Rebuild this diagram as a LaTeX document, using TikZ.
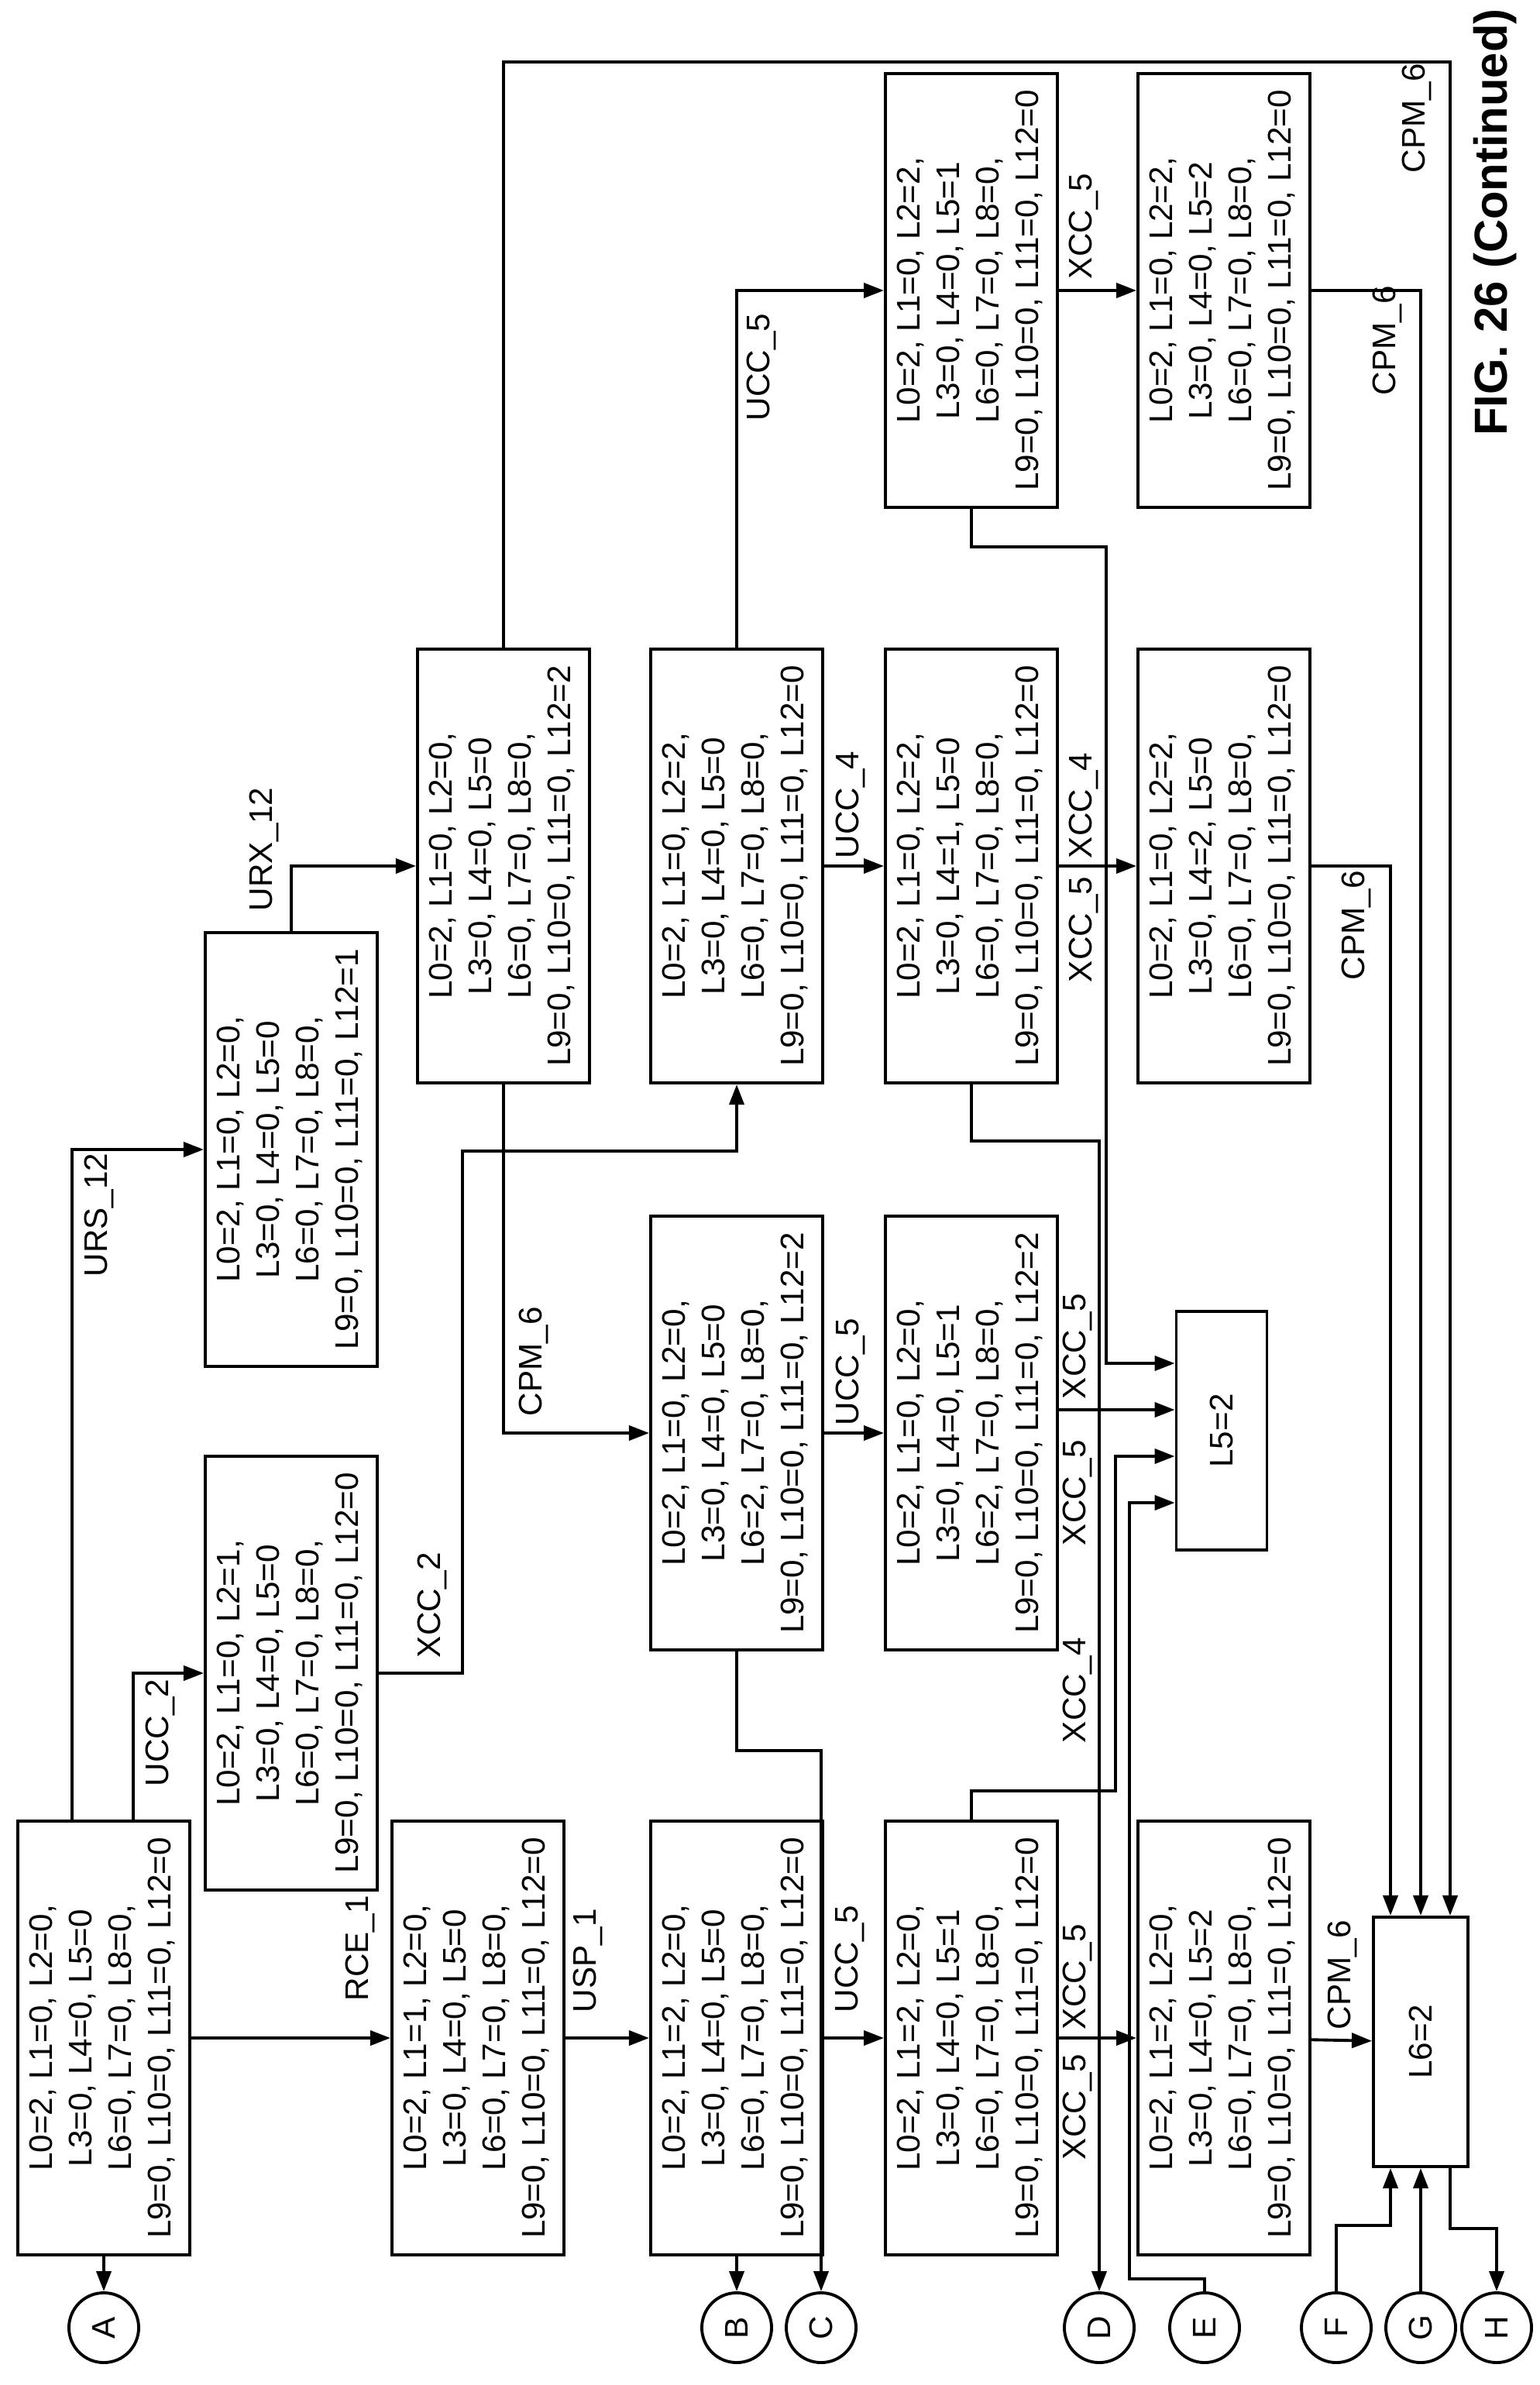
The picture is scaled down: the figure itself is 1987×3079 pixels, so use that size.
\documentclass[tikz,border=0pt]{standalone}
\usepackage{fontspec}
\setmainfont{Liberation Sans}
\usetikzlibrary{arrows.meta,calc}
\newcommand{\vstate}[4]{\rotatebox{90}{\begin{tabular}{@{}c@{}}#1\\#2\\#3\\#4\end{tabular}}}
\begin{document}
\begin{tikzpicture}[x=0.01cm, y=-0.01cm, line width=1.1pt,
  box/.style={draw, rectangle, inner sep=0pt, minimum width=2.22cm, minimum height=5.6cm, font=\fontsize{12}{14.5}\selectfont},
  sbox/.style={draw, rectangle, inner sep=0pt, font=\fontsize{12}{14.5}\selectfont},
  conn/.style={draw, circle, inner sep=0pt, minimum size=0.9cm, font=\fontsize{12}{14.5}\selectfont},
  lbl/.style={rotate=90, anchor=south west, inner sep=0pt, font=\fontsize{12}{14.5}\selectfont},
  arr/.style={-{Triangle[length=2.6mm,width=1.9mm]}}]
  \useasboundingbox (0,0) rectangle (1987,3079);

  % Zustaende
  \node[box] (s0) at (134,2631) {\vstate{L0=2, L1=0, L2=0,}{L3=0, L4=0, L5=0}{L6=0, L7=0, L8=0,}{L9=0, L10=0, L11=0, L12=0}};
  \node[box] (sRCE) at (617,2631) {\vstate{L0=2, L1=1, L2=0,}{L3=0, L4=0, L5=0}{L6=0, L7=0, L8=0,}{L9=0, L10=0, L11=0, L12=0}};
  \node[box] (sUSP) at (951,2631) {\vstate{L0=2, L1=2, L2=0,}{L3=0, L4=0, L5=0}{L6=0, L7=0, L8=0,}{L9=0, L10=0, L11=0, L12=0}};
  \node[box] (sU5) at (1254,2631) {\vstate{L0=2, L1=2, L2=0,}{L3=0, L4=0, L5=1}{L6=0, L7=0, L8=0,}{L9=0, L10=0, L11=0, L12=0}};
  \node[box] (sX5) at (1580,2631) {\vstate{L0=2, L1=2, L2=0,}{L3=0, L4=0, L5=2}{L6=0, L7=0, L8=0,}{L9=0, L10=0, L11=0, L12=0}};
  \node[box] (sUCC2) at (376,2160) {\vstate{L0=2, L1=0, L2=1,}{L3=0, L4=0, L5=0}{L6=0, L7=0, L8=0,}{L9=0, L10=0, L11=0, L12=0}};
  \node[box] (sURS) at (376,1484) {\vstate{L0=2, L1=0, L2=0,}{L3=0, L4=0, L5=0}{L6=0, L7=0, L8=0,}{L9=0, L10=0, L11=0, L12=1}};
  \node[box] (sURX) at (650,1118) {\vstate{L0=2, L1=0, L2=0,}{L3=0, L4=0, L5=0}{L6=0, L7=0, L8=0,}{L9=0, L10=0, L11=0, L12=2}};
  \node[box] (sT3) at (951,1118) {\vstate{L0=2, L1=0, L2=2,}{L3=0, L4=0, L5=0}{L6=0, L7=0, L8=0,}{L9=0, L10=0, L11=0, L12=0}};
  \node[box] (sT4) at (1254,1118) {\vstate{L0=2, L1=0, L2=2,}{L3=0, L4=1, L5=0}{L6=0, L7=0, L8=0,}{L9=0, L10=0, L11=0, L12=0}};
  \node[box] (sT5) at (1580,1118) {\vstate{L0=2, L1=0, L2=2,}{L3=0, L4=2, L5=0}{L6=0, L7=0, L8=0,}{L9=0, L10=0, L11=0, L12=0}};
  \node[box] (sR1a) at (1254,375) {\vstate{L0=2, L1=0, L2=2,}{L3=0, L4=0, L5=1}{L6=0, L7=0, L8=0,}{L9=0, L10=0, L11=0, L12=0}};
  \node[box] (sR1b) at (1580,375) {\vstate{L0=2, L1=0, L2=2,}{L3=0, L4=0, L5=2}{L6=0, L7=0, L8=0,}{L9=0, L10=0, L11=0, L12=0}};
  \node[box] (sM3) at (951,1850) {\vstate{L0=2, L1=0, L2=0,}{L3=0, L4=0, L5=0}{L6=2, L7=0, L8=0,}{L9=0, L10=0, L11=0, L12=2}};
  \node[box] (sM4) at (1254,1850) {\vstate{L0=2, L1=0, L2=0,}{L3=0, L4=0, L5=1}{L6=2, L7=0, L8=0,}{L9=0, L10=0, L11=0, L12=2}};
  \node[sbox, minimum width=1.17cm, minimum height=3.08cm] (L5) at (1577,1847) {\rotatebox{90}{L5=2}};
  \node[sbox, minimum width=1.22cm, minimum height=3.22cm] (L6) at (1834,2636) {\rotatebox{90}{L6=2}};

  % Verbinder
  \foreach \name/\x in {A/134,B/951,C/1060,D/1419,E/1555,F/1725,G/1834,H/1932} {
    \node[conn] (c\name) at (\x,3005) {\rotatebox{90}{\name}};
  }

  % Hilfspunkte
  \coordinate (kXCC2) at (597,1486);
  \coordinate (kTop) at (1872,80);
  \coordinate (jA) at (1428,1760);
  \coordinate (jC) at (1440,1880);
  \coordinate (jE) at (1458,1940);

  % Uebergaenge
  \draw[arr] (s0.south) -- (cA.north);
  \draw[arr] (sUSP.south) -- (cB.north);
  \draw[arr] (s0) -- (sRCE);
  \draw[arr] (sRCE) -- (sUSP);
  \draw[arr] (sUSP) -- (sU5);
  \draw[arr] (sU5) -- (sX5);
  \draw[arr] (sX5) -- (L6);
  \draw[arr] ($(s0.north west)+(72,0)$) |- (sURS.west);
  \draw[arr] ($(s0.north west)+(151,0)$) |- (sUCC2.west);
  \draw[arr] (sUCC2.east) -| (kXCC2) -| (sT3.south);
  \draw[arr] (sURS.north) |- (sURX.west);
  \draw[arr] (sURX.north) |- (kTop) -- (kTop |- L6.north);
  \draw[arr] (sURX.south) |- (sM3.west);
  \draw[arr] (sM3.south) -- ++(0,128) -| (cC.north);
  \draw[arr] (sM3) -- (sM4);
  \draw[arr] ($(sM4.east)+(0,-30)$) -- ($(L5.west)+(0,-27)$);
  \draw[arr] (sT3.north) |- (sR1a.west);
  \draw[arr] (sT3) -- (sT4);
  \draw[arr] (sT4) -- (sT5);
  \draw[arr] (sR1a) -- (sR1b);
  \draw[arr] (sR1a.south) -- ++(0,49) -| (jA) -- (L5.west |- jA);
  \draw[arr] (sT4.south) -- ++(0,73) -| (cD.north);
  \draw[arr] (sU5.north) -- ++(0,-37) -| (jC) -- (L5.west |- jC);
  \draw[arr] (cE.north) -- ++(0,-16) -| (jE) -- (L5.west |- jE);
  \draw[arr] (sR1b.east) -| (L6.north);
  \draw[arr] (sT5.east) -| ($(L6.north)+(-39,0)$);
  \draw[arr] (cF.north) -- ++(0,-85) -| ($(L6.south)+(-39,0)$);
  \draw[arr] (cG.north) -- (L6.south);
  \draw[arr] ($(L6.south)+(38,0)$) -- ++(0,78) -| (cH.north);

  % Beschriftungen
  \node[lbl] at (486,2585) {RCE\_1};
  \node[lbl] at (780,2600) {USP\_1};
  \node[lbl] at (1118,2600) {UCC\_5};
  \node[lbl] at (1412,2622) {XCC\_5};
  \node[lbl] at (1412,2790) {XCC\_5};
  \node[lbl] at (1754,2622) {CPM\_6};
  \node[lbl] at (1412,2252) {XCC\_4};
  \node[lbl] at (228,2308) {UCC\_2};
  \node[lbl] at (149,1650) {URS\_12};
  \node[lbl] at (362,1178) {URX\_12};
  \node[lbl] at (579,2142) {XCC\_2};
  \node[lbl] at (710,1830) {CPM\_6};
  \node[lbl] at (1119,1842) {UCC\_5};
  \node[lbl] at (1412,1808) {XCC\_5};
  \node[lbl] at (1412,1997) {XCC\_5};
  \node[lbl] at (1004,545) {UCC\_5};
  \node[lbl] at (1119,1110) {UCC\_4};
  \node[lbl] at (1420,1110) {XCC\_4};
  \node[lbl] at (1420,1270) {XCC\_5};
  \node[lbl] at (1420,362) {XCC\_5};
  \node[lbl] at (1812,512) {CPM\_6};
  \node[lbl] at (1850,225) {CPM\_6};
  \node[lbl] at (1772,1267) {CPM\_6};

  \node[rotate=90, font=\fontsize{17}{20}\selectfont\bfseries] (title) at (1930,287) {FIG. 26 (Continued)};
\end{tikzpicture}
\end{document}
